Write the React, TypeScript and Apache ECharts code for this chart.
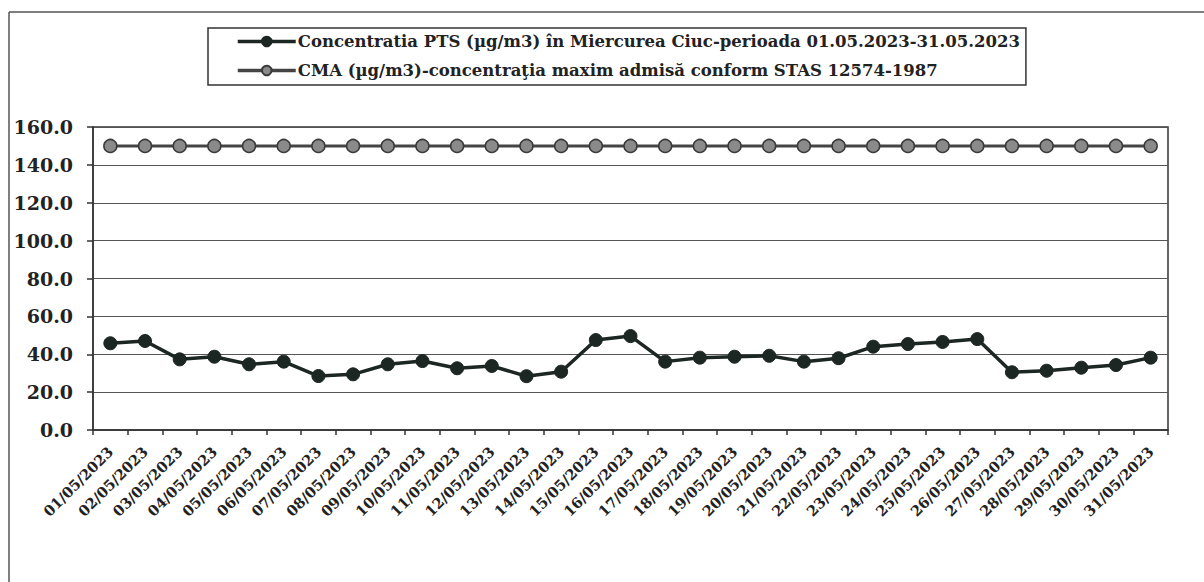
import React, { useEffect, useRef } from "react";
import * as echarts from "echarts";

const categories = [
  "01/05/2023", "02/05/2023", "03/05/2023", "04/05/2023", "05/05/2023", "06/05/2023",
  "07/05/2023", "08/05/2023", "09/05/2023", "10/05/2023", "11/05/2023", "12/05/2023",
  "13/05/2023", "14/05/2023", "15/05/2023", "16/05/2023", "17/05/2023", "18/05/2023",
  "19/05/2023", "20/05/2023", "21/05/2023", "22/05/2023", "23/05/2023", "24/05/2023",
  "25/05/2023", "26/05/2023", "27/05/2023", "28/05/2023", "29/05/2023", "30/05/2023",
  "31/05/2023",
];

const ptsValues = [
  45.8, 47.0, 37.3, 38.7, 34.7, 36.1, 28.5, 29.4, 34.7, 36.4, 32.6, 33.8, 28.4, 30.8,
  47.5, 49.6, 36.1, 38.2, 38.7, 39.2, 36.1, 37.9, 44.0, 45.4, 46.5, 48.0, 30.5, 31.3,
  32.9, 34.3, 38.2,
];

const cmaValues = [
  150, 150, 150, 150, 150, 150, 150, 150, 150, 150, 150, 150, 150, 150, 150, 150, 150,
  150, 150, 150, 150, 150, 150, 150, 150, 150, 150, 150, 150, 150, 150,
];

const seriesNames = [
  "Concentratia PTS (µg/m3) în Miercurea Ciuc-perioada 01.05.2023-31.05.2023",
  "CMA (µg/m3)-concentraţia maxim admisă conform STAS 12574-1987",
];

const FONT = "'DejaVu Serif', 'Liberation Serif', serif";

export default function App() {
  const ref = useRef<HTMLDivElement>(null);
  useEffect(() => {
    if (!ref.current) return;
    const chart = echarts.init(ref.current, undefined, { renderer: "svg" });
    chart.setOption({
      animation: false,
      backgroundColor: "#ffffff",
      graphic: [
        { type: "line", shape: { x1: 9, y1: 12, x2: 1204, y2: 12 }, style: { stroke: "#555", lineWidth: 1.5 } },
        { type: "line", shape: { x1: 9, y1: 12, x2: 9, y2: 582 }, style: { stroke: "#555", lineWidth: 1.5 } },
      ],
      legend: {
        orient: "vertical",
        left: 208,
        top: 28,
        padding: [5, 6, 6, 28],
        itemGap: 12,
        itemWidth: 58,
        itemHeight: 12,
        borderColor: "#333",
        borderWidth: 1.5,
        lineStyle: { width: 3.5 },
        textStyle: { fontFamily: FONT, fontWeight: "bold", fontSize: 16.5, color: "#222", padding: [0, 0, 0, -3] },
        data: seriesNames,
      },
      grid: {
        left: 93,
        right: 36,
        top: 127,
        bottom: 152,
        show: true,
        borderColor: "#333",
        borderWidth: 1.5,
      },
      xAxis: {
        type: "category",
        data: categories,
        boundaryGap: true,
        axisLine: { lineStyle: { color: "#333", width: 1.5 } },
        axisTick: { show: true, length: 5, lineStyle: { color: "#333", width: 1.5 } },
        axisLabel: {
          interval: 0,
          rotate: 45,
          margin: 19,
          fontFamily: FONT,
          fontWeight: "bold",
          fontSize: 14.5,
          color: "#222",
        },
      },
      yAxis: {
        type: "value",
        min: 0,
        max: 160,
        interval: 20,
        axisLine: { show: true, lineStyle: { color: "#333", width: 1.5 } },
        axisTick: { show: true, length: 6, lineStyle: { color: "#333", width: 1.5 } },
        splitLine: { show: true, lineStyle: { color: "#555", width: 1.2 } },
        axisLabel: {
          margin: 20,
          fontFamily: FONT,
          fontWeight: "bold",
          fontSize: 19,
          color: "#222",
          formatter: (v: number) => v.toFixed(1),
        },
      },
      series: [
        {
          name: seriesNames[0],
          type: "line",
          data: ptsValues,
          symbol: "circle",
          symbolSize: 13,
          lineStyle: { color: "#1c2623", width: 3.5 },
          itemStyle: { color: "#1c2623", borderColor: "#1c2623", borderWidth: 1 },
        },
        {
          name: seriesNames[1],
          type: "line",
          data: cmaValues,
          symbol: "circle",
          symbolSize: 13,
          lineStyle: { color: "#444", width: 3 },
          itemStyle: { color: "#8a8a8a", borderColor: "#3a3a3a", borderWidth: 1.5 },
        },
      ],
    });
    return () => chart.dispose();
  }, []);
  return (
    <div
      ref={ref}
      style={{ position: "fixed", left: 0, top: 0, width: 1204, height: 582 }}
    />
  );
}
